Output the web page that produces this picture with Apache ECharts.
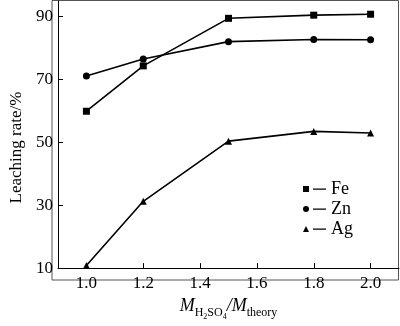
<!DOCTYPE html>
<html><head><meta charset="utf-8">
<script src="https://cdn.jsdelivr.net/npm/echarts@6/dist/echarts.min.js"></script>
<style>html,body{margin:0;padding:0;background:#fff}#c{width:400px;height:326px}</style>
</head><body><div id="c"></div>
<script>
const xValues = [1.0, 1.2, 1.5, 1.8, 2.0];
const fe = [59.8, 74.2, 89.3, 90.3, 90.6];
const zn = [71.0, 76.4, 81.9, 82.6, 82.5];
const ag = [10.8, 31.2, 50.3, 53.4, 52.9];
const xTicks = [1.0, 1.2, 1.4, 1.6, 1.8, 2.0];
const yTicks = [10, 30, 50, 70, 90];
const seriesNames = ['Fe', 'Zn', 'Ag'];

const font = 'Liberation Serif';
const chart = echarts.init(document.getElementById('c'));
const pair = (ys) => xValues.map((x, i) => [x, ys[i]]);
const lineIcon = 'M10,2.5h13v1.2h-13z';
const mkSeries = (name, data, symbol) => ({
  name, type: 'line', data: pair(data), symbol, symbolSize: 7,
  lineStyle: { color: '#000', width: 1.6 },
  itemStyle: { color: '#000' }, z: 3, animation: false
});
const legText = { color: '#000', fontFamily: font, fontSize: 18, lineHeight: 18 };
chart.setOption({
  animation: false,
  grid: { left: 52, right: 1, top: 1, bottom: 46 },
  xAxis: {
    type: 'value', min: 0.9, max: 2.1,
    axisLine: { lineStyle: { color: '#000', width: 1 } },
    axisTick: { inside: true, length: 5, customValues: xTicks, lineStyle: { color: '#000' } },
    axisLabel: { customValues: xTicks, formatter: v => v.toFixed(1), color: '#000', fontFamily: font, fontSize: 17, margin: 7 },
    splitLine: { show: false },
    name: '{m|M}{s|H}{ss|2}{s|SO}{ss|4}{m|/M}{s|theory}',
    nameLocation: 'middle', nameGap: 24,
    nameTextStyle: {
      color: '#000', fontFamily: font,
      rich: {
        m: { fontStyle: 'italic', fontSize: 18, fontFamily: font, color: '#000', verticalAlign: 'bottom' },
        s: { fontSize: 12, fontFamily: font, color: '#000', verticalAlign: 'bottom', padding: [0, 0, -4, 0] },
        ss: { fontSize: 8, fontFamily: font, color: '#000', verticalAlign: 'bottom', padding: [0, 0, -6, 0] }
      }
    }
  },
  yAxis: {
    type: 'value', min: 10, max: 94.8,
    axisLine: { show: true, lineStyle: { color: '#000', width: 1 } },
    axisTick: { show: true, inside: true, length: 5, customValues: yTicks, lineStyle: { color: '#000' } },
    axisLabel: { customValues: yTicks, color: '#000', fontFamily: font, fontSize: 17, margin: 5 },
    splitLine: { show: false },
    name: 'Leaching rate/%', nameLocation: 'middle', nameGap: 33, nameRotate: 90,
    nameTextStyle: { color: '#000', fontFamily: font, fontSize: 17, padding: [0, 0, 0, -26] }
  },
  graphic: [{ type: 'rect', shape: { x: 52, y: 0.5, width: 346.5, height: 279.5 }, style: { fill: 'none', stroke: '#555', lineWidth: 1 }, silent: true, z: 0 }],
  legend: {
    orient: 'vertical', left: 303, top: 180, padding: 0, itemGap: 2, itemWidth: 23, itemHeight: 6,
    textStyle: legText,
    data: [
      { name: 'Fe', icon: 'path://M0,0h6v6h-6z' + lineIcon, textStyle: legText },
      { name: 'Zn', icon: 'path://M0,3a3,3 0 1,0 6,0a3,3 0 1,0 -6,0z' + lineIcon, textStyle: legText },
      { name: 'Ag', icon: 'path://M3,0L6,6L0,6z' + lineIcon, textStyle: legText }
    ]
  },
  series: [mkSeries('Fe', fe, 'rect'), mkSeries('Zn', zn, 'circle'), mkSeries('Ag', ag, 'triangle')]
});
</script></body></html>
